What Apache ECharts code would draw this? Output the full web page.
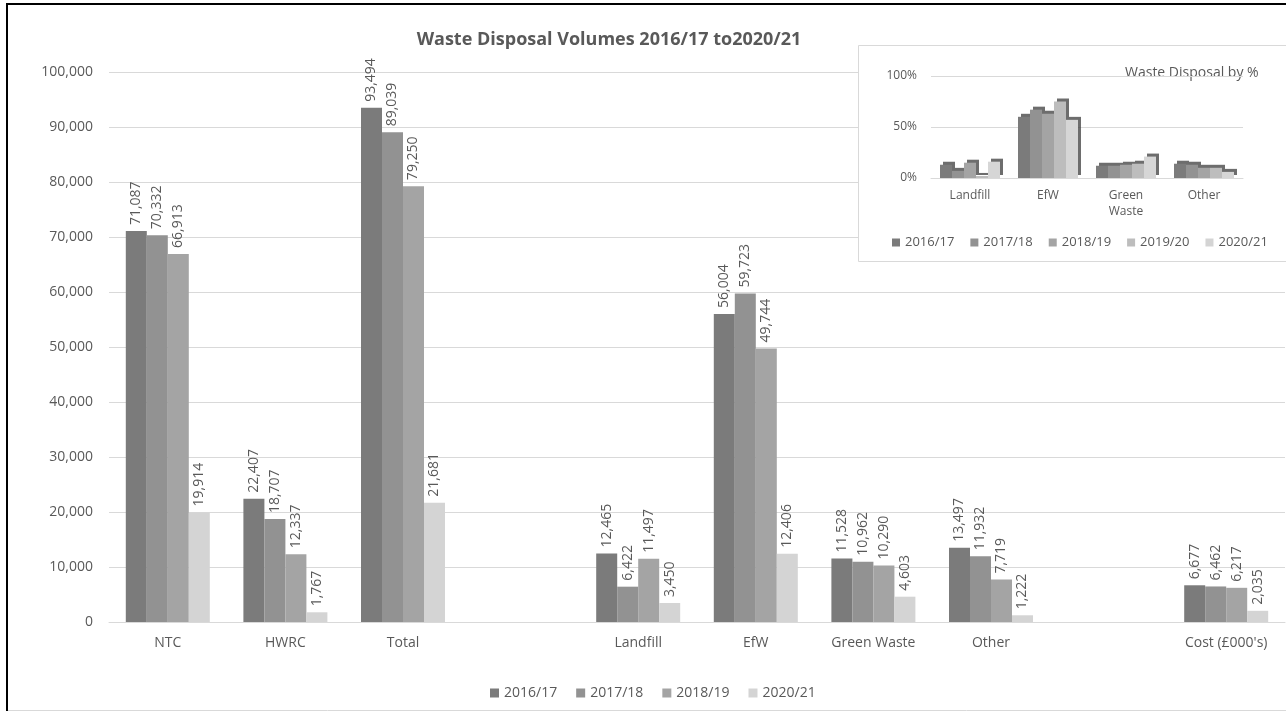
<!DOCTYPE html>
<html>
<head>
<meta charset="utf-8">
<title>Waste Disposal Volumes</title>
<script src="https://cdn.jsdelivr.net/npm/echarts@6/dist/echarts.min.js"></script>
<style>
  html, body { margin: 0; padding: 0; background: #fff; }
  #chart { width: 1286px; height: 713px; }
</style>
</head>
<body>
<div id="chart"></div>
<script>
// main chart data (tonnes, cost in £000's)
const categories = ["NTC", "HWRC", "Total", "", "Landfill", "EfW", "Green Waste", "Other", "", "Cost (£000's)"];
const seriesNames = ["2016/17", "2017/18", "2018/19", "2020/21"];
const v2016 = [71087, 22407, 93494, "-", 12465, 56004, 11528, 13497, "-", 6677];
const v2017 = [70332, 18707, 89039, "-", 6422, 59723, 10962, 11932, "-", 6462];
const v2018 = [66913, 12337, 79250, "-", 11497, 49744, 10290, 7719, "-", 6217];
const v2020 = [19914, 1767, 21681, "-", 3450, 12406, 4603, 1222, "-", 2035];
const mainColors = ["#7b7b7b", "#929292", "#a4a4a4", "#d4d4d4"];

// inset chart data (% share of disposal)
const pctCategories = ["Landfill", "EfW", "Green\nWaste", "Other"];
const pctNames = ["2016/17", "2017/18", "2018/19", "2019/20", "2020/21"];
const p2016 = [13, 60, 12, 14];
const p2017 = [7, 67, 12, 13];
const p2018 = [15, 63, 13, 10];
const p2019 = [2, 75, 14, 10];
const p2020 = [16, 57, 21, 6];
const pctColors = ["#7b7b7b", "#929292", "#a4a4a4", "#bdbdbd", "#d6d6d6"];

const txt = "#595959";
const font = "Open Sans";

const chart = echarts.init(document.getElementById("chart"));

const mainSeries = [v2016, v2017, v2018, v2020].map(function (d, i) {
  return {
    name: seriesNames[i],
    type: "bar",
    xAxisIndex: 0,
    yAxisIndex: 0,
    data: d,
    barWidth: 21,
    barGap: "0%",
    itemStyle: { color: mainColors[i] },
    label: {
      show: true,
      position: "top",
      rotate: 90,
      align: "left",
      verticalAlign: "middle",
      distance: 6,
      color: txt,
      fontFamily: font,
      fontSize: 14,
      formatter: function (p) { return p.value.toLocaleString("en-US"); }
    }
  };
});

const pctSeries = [p2016, p2017, p2018, p2019, p2020].map(function (d, i) {
  return {
    name: pctNames[i],
    type: "bar",
    xAxisIndex: 1,
    yAxisIndex: 1,
    data: d,
    barWidth: 12,
    barGap: "0%",
    z: 30,
    itemStyle: {
      color: pctColors[i],
      shadowColor: "rgba(60,60,60,0.75)",
      shadowOffsetX: 3,
      shadowOffsetY: -3,
      shadowBlur: 0
    }
  };
});

const option = {
  animation: false,
  textStyle: { fontFamily: font },
  title: {
    text: "Waste Disposal Volumes 2016/17 to2020/21",
    left: 604,
    top: 26,
    textAlign: "center",
    textStyle: { fontSize: 18, fontWeight: "bold", color: txt, fontFamily: font }
  },
  graphic: {
    elements: [
      { type: "line", shape: { x1: 7, y1: 4, x2: 7, y2: 711 }, style: { stroke: "#000", lineWidth: 2 } },
      { type: "line", shape: { x1: 6, y1: 4, x2: 1286, y2: 4 }, style: { stroke: "#000", lineWidth: 2 } },
      { type: "line", shape: { x1: 8, y1: 710.5, x2: 1286, y2: 710.5 }, style: { stroke: "#d9d9d9", lineWidth: 1 } },
      {
        type: "rect", z: 10,
        shape: { x: 858.5, y: 45.5, width: 440, height: 216 },
        style: { fill: "#fff", stroke: "#d9d9d9", lineWidth: 1 }
      },
      {
        type: "text", z: 30, left: 1125, top: 66,
        style: { text: "Waste Disposal by %", fill: txt, font: "14px 'Open Sans'" }
      }
    ]
  },
  legend: [
    {
      data: seriesNames,
      left: 485,
      top: 681,
      itemWidth: 9,
      itemHeight: 9,
      itemGap: 19,
      icon: "rect",
      textStyle: { color: txt, fontSize: 14, fontFamily: font }
    },
    {
      data: pctNames,
      left: 887,
      top: 231,
      itemWidth: 8,
      itemHeight: 8,
      itemGap: 16,
      icon: "rect",
      z: 30,
      textStyle: { color: txt, fontSize: 13, fontFamily: font }
    }
  ],
  grid: [
    { left: 109, right: 1, top: 72, bottom: 91, containLabel: false },
    { left: 931, width: 312, top: 76, bottom: 535, containLabel: false }
  ],
  xAxis: [
    {
      type: "category",
      gridIndex: 0,
      data: categories,
      axisLine: { lineStyle: { color: "#d9d9d9" } },
      axisTick: { show: false },
      axisLabel: { color: txt, fontSize: 14, fontFamily: font, margin: 14, interval: 0 }
    },
    {
      type: "category",
      gridIndex: 1,
      data: pctCategories,
      z: 30,
      axisLine: { lineStyle: { color: "#d9d9d9" } },
      axisTick: { show: false },
      axisLabel: { color: txt, fontSize: 12, fontFamily: font, margin: 10, interval: 0, lineHeight: 16 }
    }
  ],
  yAxis: [
    {
      type: "value",
      gridIndex: 0,
      min: 0,
      max: 100000,
      interval: 10000,
      axisLine: { show: false },
      axisTick: { show: false },
      splitLine: { lineStyle: { color: "#d9d9d9" } },
      axisLabel: {
        color: txt, fontSize: 14, fontFamily: font, margin: 16,
        formatter: function (v) { return v.toLocaleString("en-US"); }
      }
    },
    {
      type: "value",
      gridIndex: 1,
      min: 0,
      max: 100,
      interval: 50,
      z: 30,
      axisLine: { show: false },
      axisTick: { show: false },
      splitLine: { lineStyle: { color: "#d9d9d9" } },
      axisLabel: {
        color: txt, fontSize: 12, fontFamily: font, margin: 14,
        formatter: function (v) { return v + "%"; }
      }
    }
  ],
  series: mainSeries.concat(pctSeries)
};

chart.setOption(option);
</script>
</body>
</html>
